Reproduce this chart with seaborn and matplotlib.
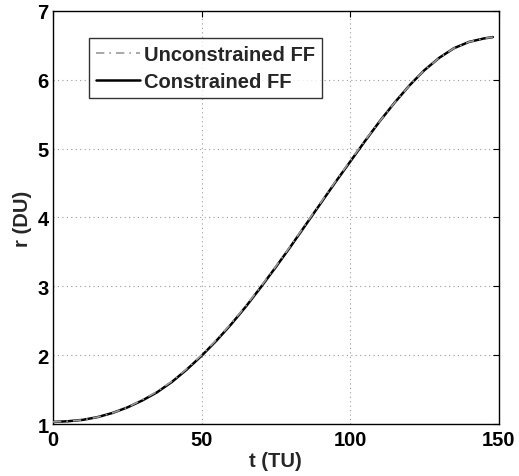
import matplotlib
matplotlib.use("Agg")
import matplotlib.pyplot as plt
import seaborn as sns
import pandas as pd

t_vals = [0, 5, 10, 15, 20, 25, 30, 35, 40, 45, 50, 55, 60, 65, 70, 75, 80, 85, 90,
          95, 100, 105, 110, 115, 120, 125, 130, 135, 140, 145, 148]
r_constrained = [1.03, 1.04, 1.06, 1.10, 1.16, 1.24, 1.34, 1.46, 1.61, 1.79, 1.99,
                 2.21, 2.45, 2.71, 2.99, 3.28, 3.58, 3.89, 4.20, 4.51, 4.81, 5.11,
                 5.40, 5.67, 5.92, 6.14, 6.32, 6.46, 6.55, 6.60, 6.62]
r_unconstrained = [1.03, 1.04, 1.06, 1.10, 1.16, 1.24, 1.35, 1.47, 1.62, 1.80, 2.00,
                   2.22, 2.46, 2.72, 3.00, 3.29, 3.59, 3.90, 4.21, 4.52, 4.82, 5.12,
                   5.40, 5.67, 5.92, 6.14, 6.32, 6.46, 6.55, 6.60, 6.62]
series_names = ["Unconstrained FF", "Constrained FF"]
x_ticks = [0, 50, 100, 150]
y_ticks = [1, 2, 3, 4, 5, 6, 7]

df = pd.concat([
    pd.DataFrame({"t": t_vals, "r": r_unconstrained, "series": series_names[0]}),
    pd.DataFrame({"t": t_vals, "r": r_constrained, "series": series_names[1]}),
])

sns.set_theme(style="white")
plt.rcParams["font.family"] = ["Liberation Sans", "DejaVu Sans"]
plt.rcParams["font.weight"] = "bold"

FS = 14.5
fig = plt.figure(figsize=(5.19, 4.77), dpi=100)
ax = fig.add_axes([0.102, 0.109, 0.859, 0.866])

sns.lineplot(data=df[df.series == series_names[1]], x="t", y="r", ax=ax,
             color="black", linewidth=1.8, label=series_names[1], zorder=2)
sns.lineplot(data=df[df.series == series_names[0]], x="t", y="r", ax=ax,
             color="#999999", linewidth=1.2, linestyle=(0, (5, 3, 1, 3)),
             label=series_names[0], zorder=3)

ax.set_xlim(0, 150)
ax.set_ylim(1, 7)
ax.set_xticks(x_ticks)
ax.set_yticks(y_ticks)
ax.set_xticklabels([str(v) for v in x_ticks], fontsize=FS, fontweight="bold")
ax.set_yticklabels([str(v) for v in y_ticks], fontsize=FS, fontweight="bold")
ax.set_xlabel("t (TU)", fontsize=FS, fontweight="bold", labelpad=2)
ax.set_ylabel("r (DU)", fontsize=FS, fontweight="bold", labelpad=4)

ax.grid(True, linestyle=(0, (1, 3)), color="#999999", linewidth=0.8)
ax.tick_params(direction="in", length=4, width=0.8, top=True, right=True,
               colors="black")
ax.tick_params(axis="x", pad=4)
ax.tick_params(axis="y", pad=3)
for s in ax.spines.values():
    s.set_color("black")
    s.set_linewidth(1.0)

handles, labels = ax.get_legend_handles_labels()
order = [labels.index(series_names[0]), labels.index(series_names[1])]
leg = ax.legend([handles[i] for i in order], [labels[i] for i in order],
                loc="upper left", bbox_to_anchor=(0.08, 0.935), fontsize=FS,
                frameon=True, fancybox=False, edgecolor="black",
                handlelength=2.2, handletextpad=0.2, borderpad=0.35,
                labelspacing=0.4, borderaxespad=0)
leg.get_frame().set_linewidth(1.0)
for txt in leg.get_texts():
    txt.set_fontweight("bold")

fig.savefig("out.png", dpi=100)
